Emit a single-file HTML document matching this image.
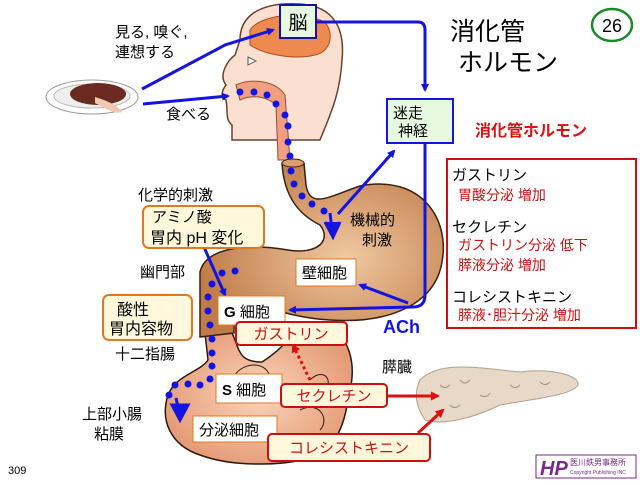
<!DOCTYPE html>
<html><head><meta charset="utf-8"><style>
html,body{margin:0;padding:0;background:#fff;}
svg text{font-family:"Liberation Sans","Noto Sans CJK JP",sans-serif;}
</style></head><body>
<svg width="640" height="480" viewBox="0 0 640 480" xmlns="http://www.w3.org/2000/svg">
<defs>
<radialGradient id="st" cx="0.6" cy="0.55" r="0.6"><stop offset="0" stop-color="#f0c8a2"/><stop offset="1" stop-color="#c07c48"/></radialGradient>
<radialGradient id="in" cx="0.5" cy="0.5" r="0.6"><stop offset="0" stop-color="#fbd5bc"/><stop offset="1" stop-color="#e2946e"/></radialGradient>
<marker id="ab" markerWidth="8" markerHeight="8" refX="6" refY="4" orient="auto" markerUnits="userSpaceOnUse"><path d="M0,0 L8,4 L0,8 Z" fill="#1414e0"/></marker>
<marker id="ar" markerWidth="9" markerHeight="9" refX="7" refY="4.5" orient="auto" markerUnits="userSpaceOnUse"><path d="M0,0 L9,4.5 L0,9 Z" fill="#e01010"/></marker>
</defs>
<!-- head -->
<path d="M240,40 C240,10 270,2 300,4 C335,6 345,30 342,60 C340,95 330,115 320,140 L232,140 L232,125 C225,120 228,110 226,100 C220,98 222,90 226,85 C218,75 228,60 235,55 Z" fill="#fbe0d2" stroke="#6a4030" stroke-width="1.5"/>
<path d="M250,30 C260,15 300,10 325,22 C335,35 330,52 315,55 C295,60 265,55 250,45 Z" fill="#ee8a50" stroke="#b04a20"/>
<path d="M236,85 C250,78 275,80 285,95 L290,160 L278,160 L276,105 C265,95 250,95 240,100 Z" fill="#f0a080" stroke="#a04a30"/>
<polygon points="248,57 256,61 248,65" fill="#fff" stroke="#555"/>
<!-- plate -->
<ellipse cx="92" cy="97" rx="46" ry="17" fill="#fff" stroke="#999"/>
<ellipse cx="92" cy="96" rx="38" ry="12" fill="#eee" stroke="#bbb"/>
<ellipse cx="98" cy="94" rx="28" ry="11" fill="#6a2a20"/>
<path d="M95,97 C105,100 118,105 122,112 C115,115 105,108 95,103 Z" fill="#f2c8b0"/>
<!-- intestine -->
<path d="M205,333 L232,333 C240,350 238,362 262,362 C290,345 292,325 322,325 C350,332 358,365 348,398 C345,425 335,445 320,455 C290,466 235,468 200,455 C170,445 160,420 168,395 C176,375 200,372 208,360 Z" fill="url(#in)" stroke="#2a1a10" stroke-width="1.5"/>
<path d="M232,380 C240,360 270,360 270,380 M300,410 C320,400 330,420 320,430 M310,380 C320,370 330,375 328,385" fill="none" stroke="#2a1a10"/>
<!-- stomach -->
<path d="M282,163 Q293,157 304,163 L306,185 C310,210 330,196 360,186 C422,174 450,220 442,262 C435,304 390,324 330,320 C290,318 260,304 234,299 L234,333 L200,337 L200,272 C205,250 240,242 288,250 C318,255 332,240 320,225 C300,215 284,198 282,163 Z" fill="url(#st)" stroke="#3a2010" stroke-width="1.5"/>
<ellipse cx="293" cy="163" rx="11" ry="4" fill="#d9a070" stroke="#3a2010"/>
<!-- pancreas -->
<path d="M420,380 C440,360 480,368 520,372 C550,368 580,375 578,385 C572,395 540,398 500,405 C470,420 440,425 425,420 C415,405 414,392 420,380 Z" fill="#e8d8c8" stroke="#b0a090"/>
<path d="M440,385 q5,5 10,0 M460,380 q5,6 10,0 M480,395 q6,4 10,-2 M510,385 q5,5 10,0 M540,382 q5,5 10,0 M450,405 q5,5 10,0" fill="none" stroke="#a09080"/>
<!-- blue dots -->
<g fill="#1414e0">
<circle cx="240" cy="92" r="3.5"/><circle cx="254" cy="92" r="3.5"/><circle cx="267" cy="95" r="3.5"/><circle cx="276" cy="104" r="3.5"/><circle cx="285" cy="115" r="3.5"/><circle cx="288" cy="126" r="3.5"/><circle cx="288" cy="142" r="3.5"/><circle cx="290" cy="156" r="3.5"/>
<circle cx="291" cy="171" r="3.5"/><circle cx="294" cy="184" r="3.5"/><circle cx="302" cy="196" r="3.5"/><circle cx="312" cy="204" r="3.5"/><circle cx="324" cy="211" r="3.5"/>
<circle cx="222" cy="273" r="3.5"/><circle cx="235" cy="271" r="3.5"/><circle cx="212" cy="284" r="3.5"/><circle cx="208" cy="297" r="3.5"/><circle cx="208" cy="311" r="3.5"/><circle cx="210" cy="325" r="3.5"/><circle cx="212" cy="339" r="3.5"/><circle cx="212" cy="353" r="3.5"/><circle cx="212" cy="366" r="3.5"/><circle cx="210" cy="379" r="3.5"/><circle cx="200" cy="385" r="3.5"/><circle cx="188" cy="384" r="3.5"/><circle cx="175" cy="385" r="3.5"/><circle cx="169" cy="395" r="3.5"/>
</g>
<path d="M330,213 L332,230 M325,222 L333,237 L340,222" stroke="#1414e0" stroke-width="3" fill="#1414e0"/>
<path d="M176,398 L180,415 M172,405 L180,420 L188,405 Z" stroke="#1414e0" stroke-width="3" fill="#1414e0"/>
<!-- red dotted -->
<path d="M310,380 L293,345" stroke="#e01010" stroke-width="3" stroke-dasharray="3,3" fill="none" marker-end="url(#ar)"/>
<!-- blue arrows -->
<g stroke="#1414e0" stroke-width="3" fill="none">
<path d="M142,89 L225,45 L273,30" marker-end="url(#ab)"/>
<path d="M143,104 L228,96" marker-end="url(#ab)"/>
<path d="M316,22 L418,22 Q425,22 425,30 L425,90" marker-end="url(#ab)"/>
<path d="M425,143 L425,295 Q425,307 413,307 L290,310" marker-end="url(#ab)"/>
<path d="M408,303 L360,285" marker-end="url(#ab)"/>
<path d="M338,214 L394,151" marker-end="url(#ab)"/>
<path d="M204,247 L225,295" marker-end="url(#ab)"/>
</g>
<!-- red arrows -->
<path d="M387,396 L438,396" stroke="#e01010" stroke-width="3" marker-end="url(#ar)"/>
<path d="M418,433 L443,410" stroke="#e01010" stroke-width="3" marker-end="url(#ar)"/>
<!-- boxes -->
<rect x="280" y="5" width="36" height="33" fill="#e6f8e0" stroke="#1414a0" stroke-width="2"/>
<text x="298" y="29" font-size="19" text-anchor="middle">脳</text>
<rect x="387" y="99" width="66" height="44" fill="#e6f8e0" stroke="#1414e0" stroke-width="2"/>
<text x="393" y="118" font-size="15">迷走</text><text x="398" y="136" font-size="15">神経</text>
<rect x="143" y="206" width="121" height="42" rx="6" fill="#fff8dc" stroke="#e07820" stroke-width="2"/>
<text x="152" y="222" font-size="15">アミノ酸</text><text x="150" y="243" font-size="16">胃内 pH 変化</text>
<rect x="103" y="295" width="89" height="45" rx="6" fill="#fff8dc" stroke="#e07820" stroke-width="2"/>
<text x="117" y="315" font-size="16">酸性</text><text x="109" y="334" font-size="16">胃内容物</text>
<rect x="218" y="296" width="67" height="29" fill="#fff" stroke="#e07820"/>
<text x="224" y="317" font-size="15"><tspan font-weight="bold">G</tspan> 細胞</text>
<rect x="296" y="259" width="60" height="27" fill="#fff" stroke="#e07820"/>
<text x="302" y="278" font-size="15">壁細胞</text>
<rect x="236" y="322" width="111" height="23" rx="4" fill="#fff8dc" stroke="#cc1010" stroke-width="2"/>
<text x="291" y="339" font-size="15" fill="#cc1010" text-anchor="middle">ガストリン</text>
<rect x="216" y="374" width="66" height="29" fill="#fff" stroke="#e07820"/>
<text x="222" y="395" font-size="15"><tspan font-weight="bold">S</tspan> 細胞</text>
<rect x="281" y="384" width="106" height="23" rx="4" fill="#fff8dc" stroke="#cc1010" stroke-width="2"/>
<text x="334" y="401" font-size="15" fill="#cc1010" text-anchor="middle">セクレチン</text>
<rect x="193" y="416" width="84" height="26" fill="#fff" stroke="#e07820"/>
<text x="199" y="435" font-size="15">分泌細胞</text>
<rect x="268" y="434" width="162" height="27" rx="4" fill="#fff8dc" stroke="#cc1010" stroke-width="2"/>
<text x="349" y="453" font-size="15" fill="#cc1010" text-anchor="middle">コレシストキニン</text>
<!-- right panel -->
<text x="450" y="40" font-size="25">消化管</text>
<text x="458" y="71" font-size="25">ホルモン</text>
<ellipse cx="612" cy="25" rx="20" ry="16" fill="#fff" stroke="#1a8a2a" stroke-width="2.5"/>
<text x="612" y="32" font-size="18" text-anchor="middle">26</text>
<text x="475" y="136" font-size="16" font-weight="bold" fill="#dd1010">消化管ホルモン</text>
<rect x="447" y="159" width="189" height="169" fill="#fff" stroke="#cc1010" stroke-width="2"/>
<text x="452" y="180" font-size="15">ガストリン</text>
<text x="458" y="200" font-size="14" fill="#cc1010">胃酸分泌 増加</text>
<text x="452" y="232" font-size="15">セクレチン</text>
<text x="458" y="250" font-size="14" fill="#cc1010">ガストリン分泌 低下</text>
<text x="458" y="270" font-size="14" fill="#cc1010">膵液分泌 増加</text>
<text x="452" y="302" font-size="15">コレシストキニン</text>
<text x="458" y="320" font-size="14" fill="#cc1010">膵液･胆汁分泌 増加</text>
<!-- labels -->
<text x="115" y="37" font-size="15">見る, 嗅ぐ,</text>
<text x="115" y="57" font-size="15">連想する</text>
<text x="166" y="119" font-size="15">食べる</text>
<text x="138" y="200" font-size="15">化学的刺激</text>
<text x="140" y="277" font-size="15">幽門部</text>
<text x="115" y="359" font-size="15">十二指腸</text>
<text x="82" y="419" font-size="15">上部小腸</text>
<text x="94" y="439" font-size="15">粘膜</text>
<text x="382" y="372" font-size="15">膵臓</text>
<text x="350" y="225" font-size="15">機械的</text>
<text x="362" y="245" font-size="15">刺激</text>
<text x="383" y="333" font-size="18" font-weight="bold" fill="#1414e0">ACh</text>
<text x="8" y="474" font-size="11">309</text>
<!-- logo -->
<rect x="536" y="455" width="100" height="23" fill="#fff" stroke="#7a2a8a"/>
<text x="540" y="475" font-size="20" font-weight="bold" font-style="italic" fill="#7a2a8a">HP</text>
<text x="570" y="465" font-size="8" fill="#7a2a8a">医川鉄男事務所</text>
<text x="570" y="474" font-size="5" fill="#7a2a8a">Copyright Publishing INC</text>
</svg>
</body></html>
